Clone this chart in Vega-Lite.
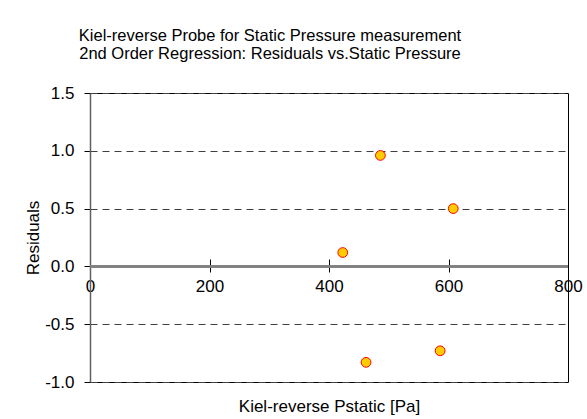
{
  "$schema": "https://vega.github.io/schema/vega-lite/v6.json",
  "width": 478,
  "height": 289,
  "autosize": "none",
  "padding": {"left": 90, "top": 93, "right": 19, "bottom": 37},
  "background": "white",
  "config": {
    "font": "Liberation Sans",
    "view": {"stroke": "black", "strokeWidth": 1}
  },
  "title": {
    "text": ["Kiel-reverse Probe for Static Pressure measurement", "2nd Order Regression: Residuals vs.Static Pressure"],
    "fontSize": 16.5,
    "fontWeight": "normal",
    "color": "black",
    "lineHeight": 18,
    "anchor": "middle",
    "dx": -59,
    "offset": 22
  },
  "data": {
    "values": [
      {"pstatic": 423, "residual": 0.12},
      {"pstatic": 486, "residual": 0.96},
      {"pstatic": 608, "residual": 0.5},
      {"pstatic": 462, "residual": -0.83},
      {"pstatic": 586, "residual": -0.73}
    ]
  },
  "encoding": {
    "x": {
      "field": "pstatic",
      "type": "quantitative",
      "scale": {"domain": [0, 800], "nice": false},
      "axis": {
        "title": "Kiel-reverse Pstatic [Pa]",
        "values": [0, 200, 400, 600, 800],
        "format": "d",
        "grid": false,
        "domain": false,
        "offset": -110,
        "tickSize": -13,
        "tickColor": "black",
        "labelFontSize": 17,
        "labelColor": "black",
        "labelPadding": 19,
        "labelFlush": false,
        "titleFontSize": 17,
        "titleFontWeight": "normal",
        "titleColor": "black",
        "titleBaseline": "alphabetic",
        "titleY": 139
      }
    },
    "y": {
      "field": "residual",
      "type": "quantitative",
      "scale": {"domain": [-1, 1.5], "nice": false},
      "axis": {
        "title": "Residuals",
        "values": [-1, -0.5, 0, 0.5, 1, 1.5],
        "format": ".1f",
        "labelExpr": "replace(datum.label, '\u2212', '-')",
        "grid": true,
        "gridDash": [7, 5],
        "gridColor": "#404040",
        "gridOpacity": 1,
        "domainColor": "#606060",
        "domainWidth": 1.5,
        "tickSize": 6,
        "tickColor": "black",
        "labelFontSize": 17,
        "labelColor": "black",
        "labelPadding": 10,
        "labelFlush": false,
        "titleFontSize": 17,
        "titleFontWeight": "normal",
        "titleColor": "black",
        "titlePadding": 2
      }
    }
  },
  "layer": [
    {
      "mark": {"type": "rule", "color": "#808080", "strokeWidth": 2},
      "encoding": {"x": {"value": 0}, "x2": {"value": 478}, "y": {"datum": 0}}
    },
    {
      "mark": {"type": "point", "filled": true, "fill": "#FFCC00", "stroke": "#FF0000", "strokeWidth": 1, "size": 95, "opacity": 1}
    }
  ]
}
